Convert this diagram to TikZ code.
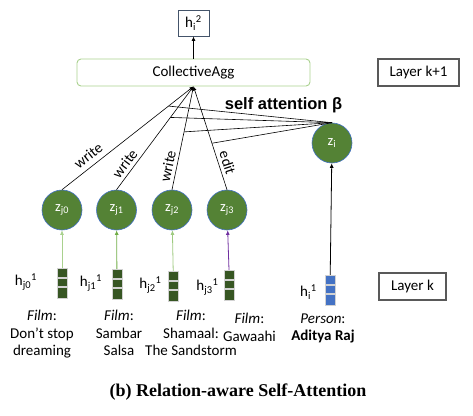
\documentclass[tikz,border=0pt]{standalone}
\usepackage{fontspec}
\setmainfont{Carlito}
\newfontfamily\arialfont{Liberation Sans}
\newfontfamily\captfont{Liberation Serif}
\usetikzlibrary{arrows.meta}

\definecolor{zgreen}{HTML}{548235}
\definecolor{zblue}{HTML}{4472C4}
\definecolor{bargreen}{HTML}{375623}
\definecolor{lightgreen}{HTML}{A9D18E}
\definecolor{midgreen}{HTML}{70AD47}
\definecolor{editpurple}{HTML}{7030A0}
\definecolor{slate}{HTML}{44546A}

\newcommand{\feat}[2]{h\textsubscript{#1}\textsuperscript{#2}}

\begin{document}
\begin{tikzpicture}[x=1pt,y=-1pt,font=\fontsize{15}{17.5}\selectfont,
	zcirc/.style={circle,fill=zgreen,draw=zblue,line width=0.6pt,minimum size=40pt,inner sep=0pt,text=white,font=\fontsize{14.5}{16}\selectfont},
	featbar/.style={draw=gray!35,fill=#1,minimum width=10pt,minimum height=30pt,inner sep=0pt,
		path picture={
			\draw [line width=1.2pt] ([yshift=-10pt]path picture bounding box.north west) -- ([yshift=-10pt]path picture bounding box.north east);
			\draw [line width=1.2pt] ([yshift=-19pt]path picture bounding box.north west) -- ([yshift=-19pt]path picture bounding box.north east);
		}},
	layerbox/.style={draw=black!65,line width=1.3pt,minimum width=81pt,minimum height=27pt,inner sep=2pt},
	aggedge/.style={-{Latex[length=4pt,width=3.5pt]},line width=0.6pt},
	attedge/.style={line width=0.6pt},
	inedge/.style={-{Latex[length=4.5pt,width=4pt]},line width=0.8pt}]
	\useasboundingbox (0,0) rectangle (473,415);

	%Output of the layer
	\node [draw=slate,line width=0.8pt,minimum width=31pt,minimum height=26pt,inner sep=1pt] (hi2) at (193.5,23) {\feat{i}{2}};
	\node [draw=lightgreen,line width=0.9pt,rounded corners=4pt,minimum width=233pt,minimum height=27pt] (agg) at (193.5,72.5) {CollectiveAgg};
	\draw [inedge] (agg) -- (hi2);

	%Layer labels
	\node [layerbox] (layer1) at (418.5,72.5) {Layer k+1};
	\node [layerbox,minimum width=67pt] (layer0) at (412.5,286.5) {Layer k};

	%Neighbour embeddings
	\node [zcirc] (zj0) at (62,210) {z\textsubscript{j0}};
	\node [zcirc] (zj1) at (116.5,210) {z\textsubscript{j1}};
	\node [zcirc] (zj2) at (172,210) {z\textsubscript{j2}};
	\node [zcirc] (zj3) at (227,210) {z\textsubscript{j3}};
	\node [zcirc] (zi) at (332,143) {z\textsubscript{i}};

	%Relations into CollectiveAgg
	\draw [aggedge] (zj0.north) -- node [pos=0.25,sloped,above=2pt] {write} coordinate [pos=0.81] (att0) (agg.south);
	\draw [aggedge] (zj1.north) -- node [pos=0.2,sloped,above=0pt] {write} coordinate [pos=0.7] (att1) (agg.south);
	\draw [aggedge] (zj2.north) -- node [pos=0.21,sloped,above=0pt] {write} coordinate [pos=0.56] (att2) (agg.south);
	\draw [aggedge] (zj3.north) -- node [pos=0.235,sloped,above=0pt] {edit} coordinate [pos=0.45] (att3) (agg.south);

	%Self attention
	\foreach \k in {0,...,3}
		\draw [attedge] (zi.north) -- (att\k);
	\node [font=\arialfont\bfseries\fontsize{16.5}{18}\selectfont] (beta) at (283.5,105) {self attention β};

	%Layer k features
	\node [featbar=bargreen] (hj0) at (62,283) {};
	\node [featbar=bargreen] (hj1) at (117,284) {};
	\node [featbar=bargreen] (hj2) at (173.5,286) {};
	\node [featbar=bargreen] (hj3) at (229.5,285) {};
	\node [featbar=zblue] (hi) at (330,290) {};
	\draw [inedge,lightgreen] (hj0) -- (zj0);
	\draw [inedge,midgreen] (hj1) -- (zj1);
	\draw [inedge,lightgreen!80!midgreen] (hj2) -- (zj2);
	\draw [inedge,editpurple] (hj3) -- (zj3);
	\draw [inedge] (hi) -- (zi);

	\node (lj0) at (26,282) {\feat{j0}{1}};
	\node (lj1) at (91,283) {\feat{j1}{1}};
	\node (lj2) at (150.5,285) {\feat{j2}{1}};
	\node (lj3) at (207.5,287) {\feat{j3}{1}};
	\node (li) at (308.5,292) {\feat{i}{1}};

	%Entity names
	\node [align=center,anchor=north] (nj0) at (42,307) {\textit{Film}:\\Don’t stop\\dreaming};
	\node [align=center,anchor=north] (nj1) at (119,307) {\textit{Film}:\\Sambar\\Salsa};
	\node [align=center,anchor=north] (nj2) at (191,307) {\textit{Film}:\\Shamaal:\\The Sandstorm};
	\node [align=center,anchor=north] (nj3) at (249.5,310) {\textit{Film}:\\Gawaahi};
	\node [align=center,anchor=north] (ni) at (323,310) {\textit{Person}:\\\textbf{Aditya Raj}};

	%Caption
	\node [font=\captfont\bfseries\fontsize{18}{21}\selectfont] (caption) at (238,392) {(b) Relation-aware Self-Attention};
\end{tikzpicture}
\end{document}
